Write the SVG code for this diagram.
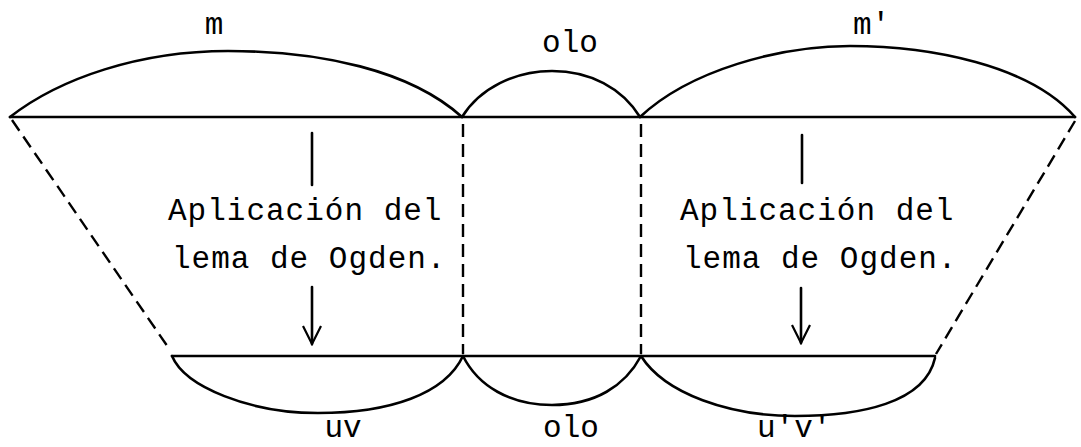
<svg xmlns="http://www.w3.org/2000/svg" width="1081" height="447" viewBox="0 0 1081 447">
<style>
.ln{fill:none;stroke:#000;stroke-width:2.6;stroke-linecap:round;stroke-linejoin:round}
.dash{fill:none;stroke:#000;stroke-width:2.4;stroke-dasharray:13 7}
.t{font-family:"Liberation Mono","Courier New",monospace;font-size:31px;fill:#000}
.tl{letter-spacing:1px}
</style>
<defs>
<marker id="ah" markerUnits="userSpaceOnUse" viewBox="-22 -12 24 24" refX="0" refY="0" markerWidth="24" markerHeight="24" orient="auto">
<path d="M-18,-9 L0,0 L-18,9" fill="none" stroke="#000" stroke-width="2.2" stroke-linejoin="miter"/>
</marker>
</defs>
<rect width="1081" height="447" fill="#fff"/>
<g id="top-string">
<line class="ln" x1="10" y1="117" x2="1075" y2="117"/>
<path id="arc-m" class="ln" d="M10,117 C60,78 140,51 228,51 C320,51 410,70 462,117"/>
<path id="arc-olo-top" class="ln" d="M462,117 C480,88 515,71 552,71 C590,71 622,88 640,117"/>
<path id="arc-m2" class="ln" d="M640,117 C690,70 780,46 850,46 C930,46 1030,65 1075,117"/>
</g>
<g id="bottom-string">
<line class="ln" x1="172" y1="356" x2="935" y2="356"/>
<path id="arc-uv" class="ln" d="M172,356 C185,387 250,413 318,413 C390,413 445,394 463,356"/>
<path id="arc-olo-bottom" class="ln" d="M463,356 C478,386 510,405 552,405 C595,405 625,386 641,356"/>
<path id="arc-u2v2" class="ln" d="M641,356 C665,394 730,416 795,416 C860,416 925,403 935,358"/>
</g>
<g id="labels">
<text class="t" x="214" y="34" text-anchor="middle">m</text>
<text class="t" x="570" y="52" text-anchor="middle">olo</text>
<text class="t" x="853" y="34">m'</text>
<text class="t" x="343" y="437" text-anchor="middle">uv</text>
<text class="t" x="571" y="437" text-anchor="middle">olo</text>
<text class="t" x="757" y="437">u'v'</text>
</g>
<g id="note-left">
<text class="t tl" x="168" y="220">Aplicación del</text>
<text class="t tl" x="172" y="268">lema de Ogden.</text>
</g>
<g id="note-right">
<text class="t tl" x="680" y="220">Aplicación del</text>
<text class="t tl" x="683" y="268">lema de Ogden.</text>
</g>
<g id="connectors">
<line class="dash" x1="12" y1="120" x2="170" y2="350"/>
<line class="dash" x1="1075" y1="121" x2="936" y2="354"/>
<line class="dash" x1="463" y1="124" x2="463" y2="354"/>
<line class="dash" x1="641" y1="124" x2="641" y2="354"/>
<line class="ln" x1="312" y1="133" x2="312" y2="185"/>
<line class="ln" x1="312" y1="287" x2="312" y2="344" marker-end="url(#ah)"/>
<line class="ln" x1="802" y1="135" x2="802" y2="183"/>
<line class="ln" x1="801" y1="288" x2="801" y2="343" marker-end="url(#ah)"/>
</g>
</svg>
